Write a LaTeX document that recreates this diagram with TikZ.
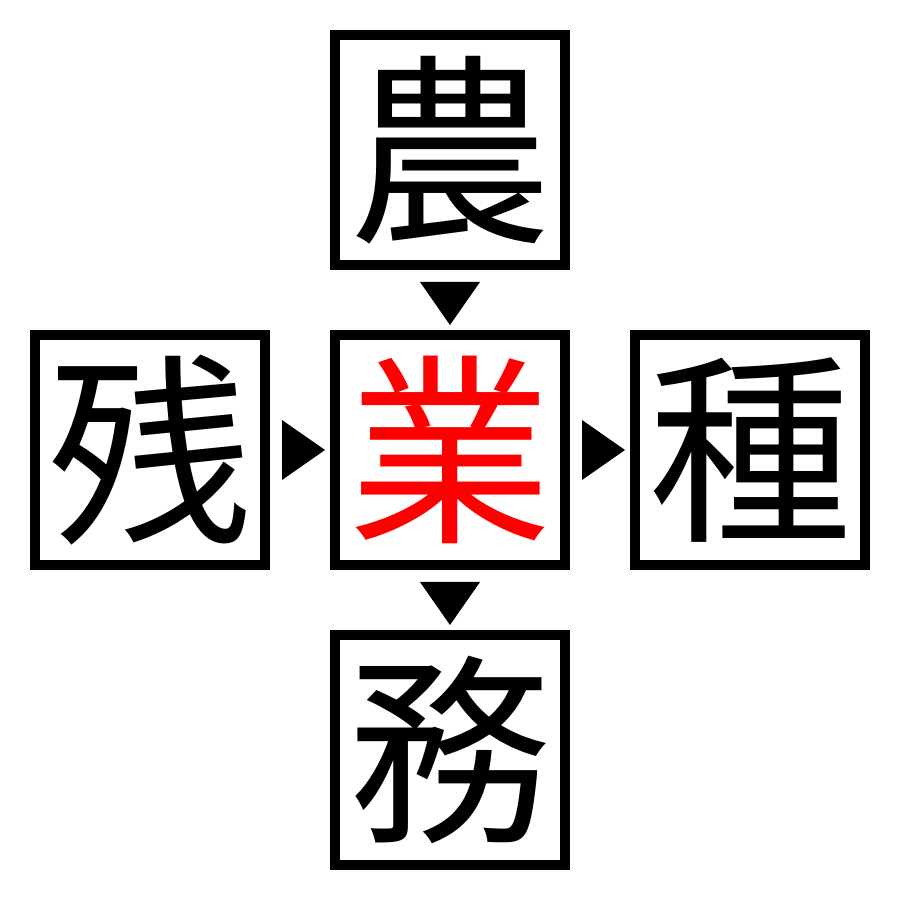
\documentclass[tikz,border=0pt]{standalone}
\usepackage{fontspec}
\usepackage{tikz}
\usetikzlibrary{positioning,calc}
\newfontfamily\kanji{Noto Sans CJK JP}

\begin{document}
\begin{tikzpicture}[node distance=0.6cm,
  every node/.style = {shape=rectangle,
    draw, line width=1mm, minimum size=2.3cm, inner sep=0pt,
    font=\kanji\fontsize{58}{58}\selectfont},
  arrowhead/.style = {fill=black},
 ]
 \useasboundingbox (0,0) rectangle (9,9);
 \node (gyo) at (4.5,4.5) {\textcolor{red}{業}};
 \node (nou) [above=of gyo] {農};
 \node (zan) [left=of gyo] {残};
 \node (shu) [right=of gyo] {種};
 \node (mu) [below=of gyo] {務};
 % arrowheads
 \fill[arrowhead] ($(zan.east)+(0.12,0.3)$) -- ($(zan.east)+(0.12,-0.3)$) -- ($(zan.east)+(0.55,0)$) -- cycle;
 \fill[arrowhead] ($(gyo.east)+(0.12,0.3)$) -- ($(gyo.east)+(0.12,-0.3)$) -- ($(gyo.east)+(0.55,0)$) -- cycle;
 \fill[arrowhead] ($(nou.south)+(-0.3,-0.12)$) -- ($(nou.south)+(0.3,-0.12)$) -- ($(nou.south)+(0,-0.55)$) -- cycle;
 \fill[arrowhead] ($(gyo.south)+(-0.3,-0.12)$) -- ($(gyo.south)+(0.3,-0.12)$) -- ($(gyo.south)+(0,-0.55)$) -- cycle;
\end{tikzpicture}
\end{document}
